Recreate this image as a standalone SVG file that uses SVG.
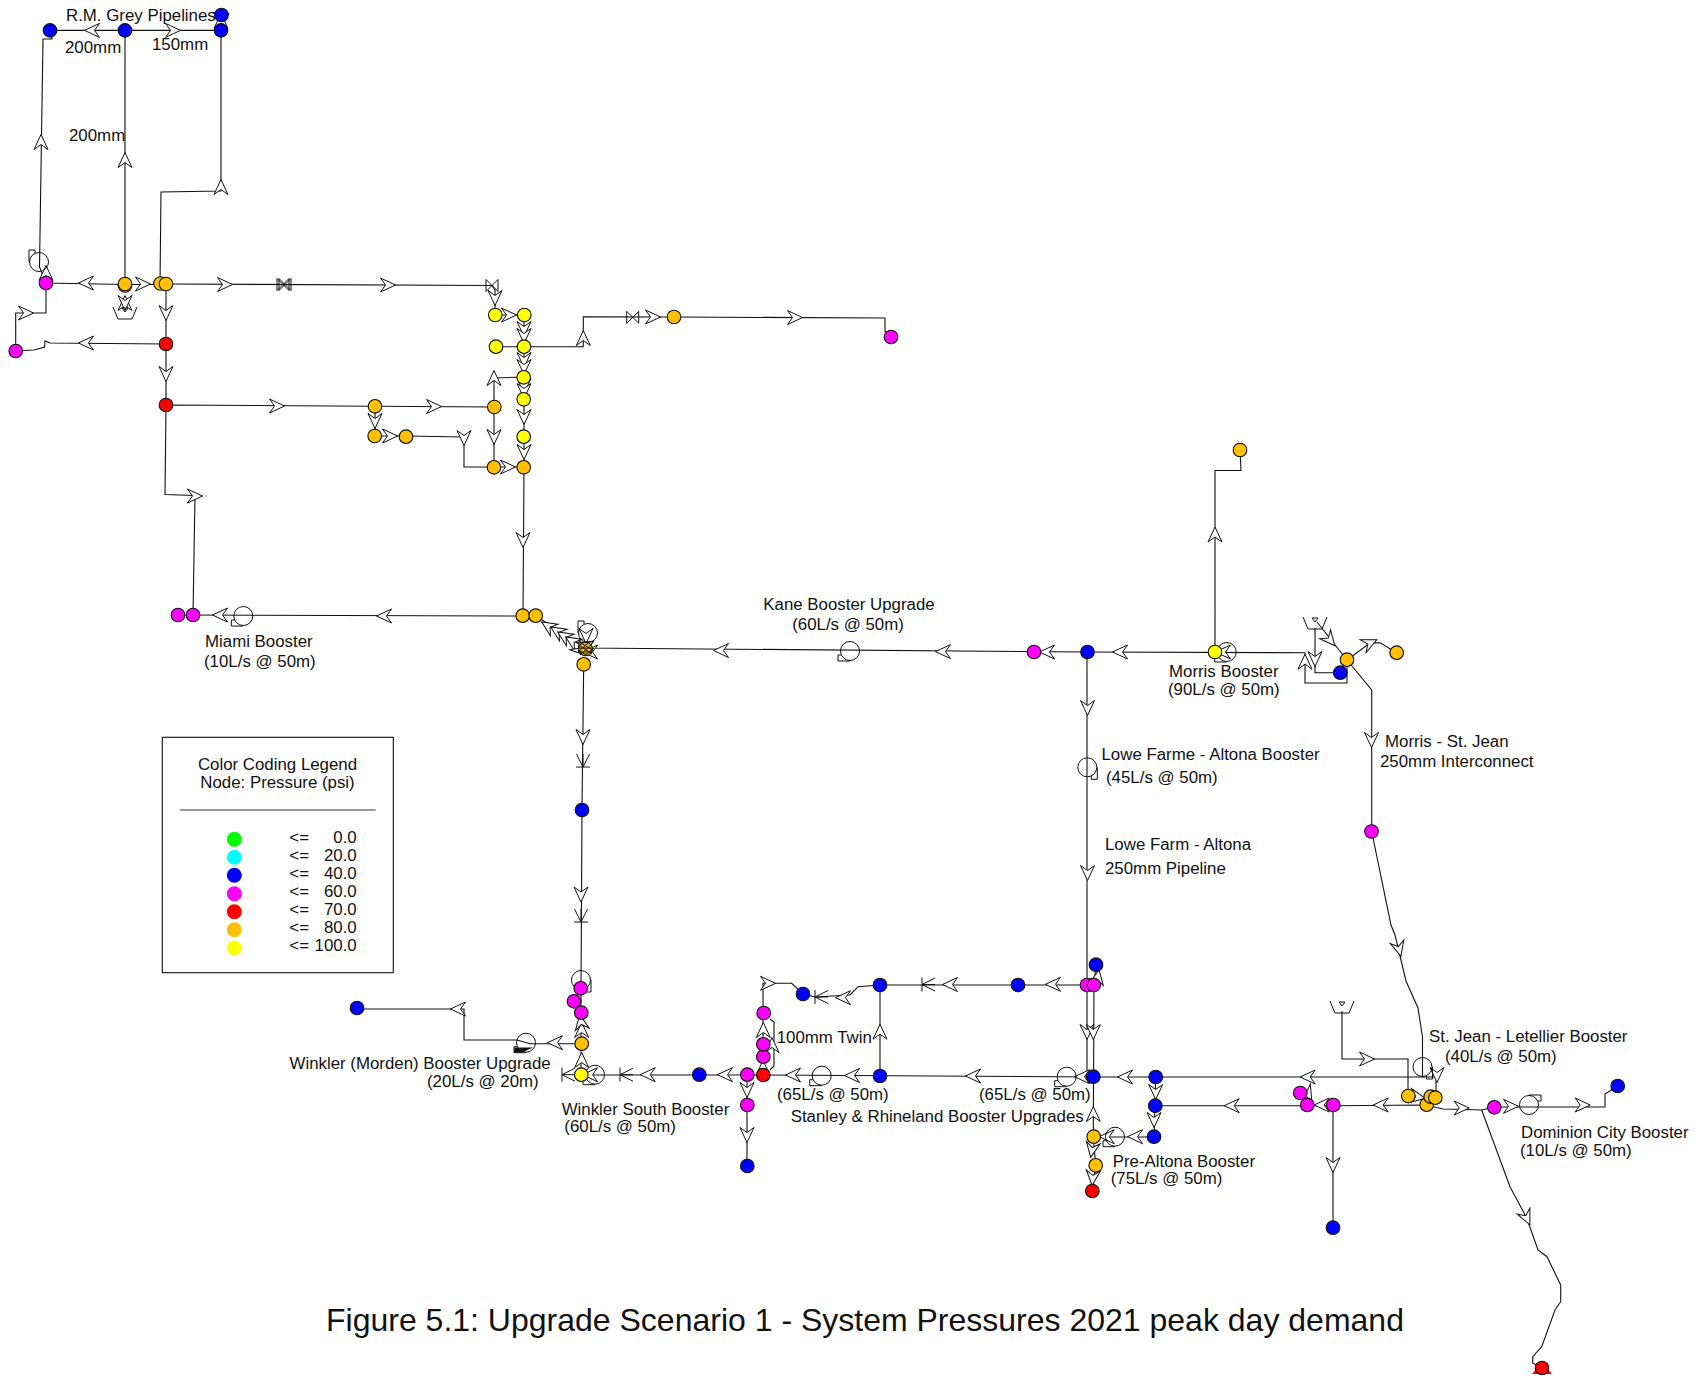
<svg xmlns="http://www.w3.org/2000/svg" width="1700" height="1377" viewBox="0 0 1700 1377">
<style>
text{font-family:"Liberation Sans",Arial,sans-serif;font-size:16.85px;fill:#111}
.title{font-size:32px}
.p{fill:none;stroke:#111;stroke-width:1.1}
.s{fill:none;stroke:#111;stroke-width:1}
.n circle{stroke:#111;stroke-width:1.1;r:6.8px}
.b circle{fill:#0000ff}.m circle{fill:#ff00ff}.r circle{fill:#ff0000}.o circle{fill:#ffc000}.y circle{fill:#ffff00}
.ar{fill:#fff;stroke:#111;stroke-width:1}
</style>
<defs>
<path id="a" class="ar" d="M7.5,0L-7.5,-7L-2.5,0L-7.5,7Z"/>
<path id="c" class="s" d="M-6,0H7M-6,-7V7M-6,0L7,-6.5M-6,0L7,6.5"/>
<path id="v" class="s" d="M-6,-6L6,6V-6L-6,6Z"/>
<path id="t" class="s" d="M-12,-10L-7,2H7L12,-10M-3,-9H3L0,-5Z"/>
<g id="u"><circle class="s" r="9.5"/><path class="s" d="M-8.5,4H-12V10H0"/></g>
</defs>
<rect width="1700" height="1377" fill="#fff"/>
<g id="connectors">
<path class="p" d="M50,30.4H221M125,30.4V285M221,15V30.4V191L161,192L160,284"/>
<path class="p" d="M50,30.4L52,39L43,39L39.5,267L46,283M46,283L125,284.5H160M166,284L492,285.5L495,290V315H524M496,346.7H524M524,315V467.3L523,616"/>
<path class="p" d="M524,346.7H583.3V316.7L674,317L885,318V331L891,337"/>
<path class="p" d="M166,284V405M166,344L50,343L45,341L44.6,347L34,350L15.7,351V313H46V283"/>
<path class="p" d="M166,405L494,407V467M494,407V378L524,377M166,405L165,494.5L195,495.5L193,615M375,406V436H406L464,437V467H524"/>
<path class="p" d="M523,616L178,615M523,616H536L585,648L1087,652L1305,652.7V683H1347V660M1215,652V470.5H1241L1240,450"/>
<path class="p" d="M1315,628V672.7H1340M1317,622L1347,660L1370,643L1380,642.7L1396.7,652.7M1347,660L1371.7,690V831.5L1391,925L1395,935L1406,981L1418,1008L1422.5,1037V1077"/>
<path class="p" d="M1342,1011V1059H1408V1096M1408,1096L1430,1100M1436,1077V1098M1093,1077H1436.7"/>
<path class="p" d="M1155.3,1105.7H1333L1426,1105L1443,1109L1481.7,1110L1494,1107H1605V1094L1617.7,1086"/>
<path class="p" d="M1481.7,1110L1510,1186.7L1526.7,1218L1538,1250L1547,1256.7L1560.7,1285V1301.7L1555,1310L1541.7,1346.7L1532.7,1356.7V1363L1542,1368M1333,1105V1228"/>
<path class="p" d="M880,985H1087M1087,652V1076M1094,985L1093.3,1137L1095.7,1165L1092.3,1191M1094,985L1096,965M1155.7,1077L1154,1137H1094M1093,1077L763,1075H581"/>
<path class="p" d="M880,985V1076M880,985L858,986.7L850,995L815,997L803,994L791.7,983.3H763V1075M770,1019L774,1022V1066L770,1070M581,1075V988"/>
<path class="p" d="M581.7,1043.7H530L517,1040H464V1009H357M583.7,664L582,810L581,988M747,1075V1166"/>
<g id="arrows">
<use href="#a" transform="translate(92,30.4) rotate(180)"/><use href="#a" transform="translate(173,30.4)"/><use href="#a" transform="translate(221,21) rotate(-90)"/>
<use href="#a" transform="translate(125,160) rotate(-90)"/><use href="#a" transform="translate(41,142) rotate(-90)"/><use href="#a" transform="translate(221,187) rotate(-90)"/>
<use href="#a" transform="translate(86,283) rotate(180)"/><use href="#a" transform="translate(143,284)"/><use href="#a" transform="translate(225,284.5)"/><use href="#a" transform="translate(388,285)"/>
<use href="#a" transform="translate(46,273) rotate(-90)"/><use href="#a" transform="translate(125,303) rotate(-90)"/><use href="#a" transform="translate(125,303) rotate(90)"/>
<use href="#a" transform="translate(166,313) rotate(90)"/><use href="#a" transform="translate(166,374) rotate(90)"/><use href="#a" transform="translate(86,343) rotate(180)"/><use href="#a" transform="translate(26,313)"/>
<use href="#a" transform="translate(495,298) rotate(90)"/><use href="#a" transform="translate(509,315)"/><use href="#a" transform="translate(524,329) rotate(90)"/><use href="#a" transform="translate(524,336) rotate(90)"/><use href="#a" transform="translate(524,360) rotate(90)"/><use href="#a" transform="translate(524,367) rotate(90)"/><use href="#a" transform="translate(524,386) rotate(90)"/><use href="#a" transform="translate(524,391) rotate(90)"/><use href="#a" transform="translate(524,417) rotate(90)"/><use href="#a" transform="translate(524,452) rotate(90)"/><use href="#a" transform="translate(523,540) rotate(90)"/>
<use href="#a" transform="translate(583.3,338) rotate(-90)"/><use href="#a" transform="translate(653,317)"/><use href="#a" transform="translate(795,317.5)"/>
<use href="#a" transform="translate(277,406)"/><use href="#a" transform="translate(434,406.5)"/><use href="#a" transform="translate(375,421) rotate(90)"/><use href="#a" transform="translate(390,436)"/><use href="#a" transform="translate(464,438) rotate(90)"/><use href="#a" transform="translate(494,378) rotate(-90)"/><use href="#a" transform="translate(494,437) rotate(90)"/><use href="#a" transform="translate(508,467)"/>
<use href="#a" transform="translate(195,496)"/><use href="#a" transform="translate(384,616) rotate(180)"/><use href="#a" transform="translate(220,615) rotate(180)"/>
<use href="#a" transform="translate(548,626) rotate(213)"/><use href="#a" transform="translate(557,631) rotate(213)"/><use href="#a" transform="translate(564,636) rotate(213)"/><use href="#a" transform="translate(572,641) rotate(213)"/><use href="#a" transform="translate(586,636) rotate(90)"/><use href="#a" transform="translate(587,645) rotate(-30)"/><use href="#a" transform="translate(580,650) rotate(45)"/><use href="#a" transform="translate(590,652) rotate(180)"/>
<use href="#a" transform="translate(721,650.5) rotate(180)"/><use href="#a" transform="translate(943,651.6) rotate(180)"/><use href="#a" transform="translate(1047,652) rotate(180)"/><use href="#a" transform="translate(1120,652) rotate(180)"/><use href="#a" transform="translate(1223,652) rotate(180)"/>
<use href="#a" transform="translate(1215,534.5) rotate(-90)"/><use href="#a" transform="translate(1305,661.7) rotate(-90)"/><use href="#a" transform="translate(1315,659) rotate(90)"/><use href="#a" transform="translate(1330,640) rotate(50)"/><use href="#a" transform="translate(1370,643) rotate(-25)"/>
<use href="#a" transform="translate(1371.5,740) rotate(90)"/><use href="#a" transform="translate(1399,949) rotate(75)"/><use href="#a" transform="translate(1437,1075) rotate(90)"/><use href="#a" transform="translate(1367,1059)"/><use href="#a" transform="translate(1418,1097) rotate(10)"/>
<use href="#a" transform="translate(1380.7,1105) rotate(180)"/><use href="#a" transform="translate(1321.7,1105) rotate(180)"/><use href="#a" transform="translate(1461.7,1108)"/><use href="#a" transform="translate(1511,1106.3)"/><use href="#a" transform="translate(1582.7,1105)"/><use href="#a" transform="translate(1526.7,1218) rotate(65)"/><use href="#a" transform="translate(1333,1165) rotate(90)"/>
<use href="#a" transform="translate(1307.7,1077) rotate(180)"/><use href="#a" transform="translate(1125,1077) rotate(180)"/><use href="#a" transform="translate(1231.7,1105.7) rotate(180)"/><use href="#a" transform="translate(1308,1094) rotate(60)"/>
<use href="#a" transform="translate(1155.7,1092) rotate(90)"/><use href="#a" transform="translate(1154,1120) rotate(90)"/><use href="#a" transform="translate(1135,1136.7) rotate(180)"/><use href="#a" transform="translate(1106.7,1136.7) rotate(180)"/>
<use href="#a" transform="translate(1087.5,708) rotate(90)"/><use href="#a" transform="translate(1087.5,873) rotate(90)"/><use href="#a" transform="translate(1087,1032) rotate(90)"/><use href="#a" transform="translate(1093.3,1032) rotate(90)"/><use href="#a" transform="translate(1097.7,977) rotate(-80)"/><use href="#a" transform="translate(1093.3,1114) rotate(-90)"/><use href="#a" transform="translate(1092,1150) rotate(100)"/><use href="#a" transform="translate(1092.7,1178) rotate(95)"/>
<use href="#a" transform="translate(1053,984.3) rotate(180)"/><use href="#a" transform="translate(950,984.5) rotate(180)"/><use href="#a" transform="translate(1082,1076.7) rotate(180)"/><use href="#a" transform="translate(973,1076) rotate(180)"/><use href="#a" transform="translate(852,1075.5) rotate(180)"/><use href="#a" transform="translate(793,1075) rotate(180)"/>
<use href="#a" transform="translate(880,1031.7) rotate(-90)"/><use href="#a" transform="translate(843,997.7) rotate(180)"/><use href="#a" transform="translate(768,983.3)"/><use href="#a" transform="translate(763.3,1030) rotate(-90)"/><use href="#a" transform="translate(772,1045) rotate(-90)"/><use href="#a" transform="translate(763,1068) rotate(-90)"/>
<use href="#a" transform="translate(725,1074.7) rotate(180)"/><use href="#a" transform="translate(647.7,1074.7) rotate(180)"/><use href="#a" transform="translate(590,1074.7) rotate(180)"/>
<use href="#a" transform="translate(581.7,1060) rotate(-90)"/><use href="#a" transform="translate(581.7,1030) rotate(-90)"/><use href="#a" transform="translate(555,1042.7) rotate(180)"/><use href="#a" transform="translate(458,1009) rotate(180)"/><use href="#a" transform="translate(581,1022) rotate(-100)"/>
<use href="#a" transform="translate(583,737) rotate(90)"/><use href="#a" transform="translate(581,894.5) rotate(90)"/><use href="#a" transform="translate(747,1090) rotate(90)"/><use href="#a" transform="translate(747,1135) rotate(90)"/>
<use href="#c" transform="translate(583,761) rotate(-90)"/><use href="#c" transform="translate(581,916) rotate(-90)"/><use href="#c" transform="translate(928,984.5)"/><use href="#c" transform="translate(821,997)"/><use href="#c" transform="translate(626,1074.7)"/><use href="#c" transform="translate(568,1074.7)"/>
</g>
</g>
<g id="valve1"><use href="#v" x="283" y="284.5"/><use href="#v" x="285" y="284.5"/></g>
<g id="valve2"><use href="#v" x="492" y="285.5"/></g>
<g id="valve3"><use href="#v" x="632.7" y="317.3"/></g>
<g id="tank1"><use href="#t" transform="translate(125,317)"/></g>
<g id="tank2"><use href="#t" transform="translate(1315,627)"/></g>
<g id="tank3"><use href="#t" transform="translate(1342,1011)"/></g>
<g id="pump1"><use href="#u" transform="translate(39,262) rotate(90)"/></g>
<g id="pump2"><use href="#u" transform="translate(243.3,616)"/></g>
<g id="pump3"><use href="#u" transform="translate(588,633) rotate(90)"/></g>
<g id="pump4"><use href="#u" transform="translate(850,651)"/></g>
<g id="pump5"><use href="#u" transform="translate(1226.7,652)"/></g>
<g id="pump6"><use href="#u" transform="translate(1087.3,767.3) rotate(-90)"/></g>
<g id="pump7"><use href="#u" transform="translate(1422.5,1067) rotate(-90)"/></g>
<g id="pump8"><use href="#u" transform="translate(1529,1105) rotate(180)"/></g>
<g id="pump9"><use href="#u" transform="translate(1066.7,1076.7)"/></g>
<g id="pump10"><use href="#u" transform="translate(1115,1136.7)"/></g>
<g id="pump11"><use href="#u" transform="translate(821.7,1075.7)"/></g>
<g id="pump12"><use href="#u" transform="translate(595,1074.7)"/></g>
<g id="pump13"><use href="#u" transform="translate(581,980) rotate(-90)"/></g>
<g id="pump14"><use href="#u" transform="translate(526,1042.7)"/><path d="M514.5,1047.5H533L522,1052.5H514Z" fill="#111"/></g>
<g id="n1" class="n b"><circle cx="50" cy="30.4"/></g>
<g id="n2" class="n b"><circle cx="125" cy="30.4"/></g>
<g id="n3" class="n b"><circle cx="221" cy="30.4"/></g>
<g id="n4" class="n b"><path d="M212,12L230,13L221,21Z" fill="#0000ff"/><circle cx="221.5" cy="15"/></g>
<g id="n5" class="n m"><circle cx="46" cy="283"/></g>
<g id="n6" class="n o"><circle cx="125" cy="285.5"/><circle cx="125" cy="284"/></g>
<g id="n7" class="n o"><circle cx="160.5" cy="283.5"/></g>
<g id="n8" class="n o"><circle cx="166" cy="284"/></g>
<g id="n9" class="n r"><circle cx="166" cy="344"/></g>
<g id="n10" class="n m"><circle cx="15.7" cy="351"/></g>
<g id="n11" class="n r"><circle cx="166" cy="405"/></g>
<g id="n12" class="n y"><circle cx="495.3" cy="315"/></g>
<g id="n13" class="n y"><circle cx="524.3" cy="315"/></g>
<g id="n14" class="n y"><circle cx="496" cy="346.7"/></g>
<g id="n15" class="n y"><circle cx="524" cy="346.7"/></g>
<g id="n16" class="n y"><circle cx="523.7" cy="377.3"/></g>
<g id="n17" class="n y"><circle cx="523.7" cy="399.3"/></g>
<g id="n18" class="n y"><circle cx="523.7" cy="436.7"/></g>
<g id="n19" class="n o"><circle cx="523.7" cy="467.3"/></g>
<g id="n20" class="n o"><circle cx="494" cy="467.3"/></g>
<g id="n21" class="n o"><circle cx="494.3" cy="407"/></g>
<g id="n22" class="n o"><circle cx="375" cy="406.3"/></g>
<g id="n23" class="n o"><circle cx="374.7" cy="436"/></g>
<g id="n24" class="n o"><circle cx="406" cy="436.7"/></g>
<g id="n25" class="n o"><circle cx="522.7" cy="615.7"/></g>
<g id="n26" class="n o"><circle cx="535.7" cy="615.7"/></g>
<g id="n27" class="n o"><circle cx="585.5" cy="649"/><path class="s" d="M579,645L592,654M581,643L594,651M578,650L588,656M592,644L580,655M588,643L578,652M594,648L584,656M579,648H593M580,652H592" stroke-width="1.2"/></g>
<g id="n28" class="n o"><circle cx="583.7" cy="664.3"/></g>
<g id="n29" class="n m"><circle cx="891" cy="337"/></g>
<g id="n30" class="n o"><circle cx="674" cy="317"/></g>
<g id="n31" class="n m"><circle cx="178" cy="615"/></g>
<g id="n32" class="n m"><circle cx="193" cy="615"/></g>
<g id="n33" class="n b"><circle cx="582" cy="810"/></g>
<g id="n34" class="n b"><circle cx="357" cy="1008"/></g>
<g id="n35" class="n m"><circle cx="580.7" cy="988.3"/></g>
<g id="n36" class="n m"><circle cx="574" cy="1001.3"/></g>
<g id="n37" class="n m"><circle cx="581.3" cy="1012.7"/></g>
<g id="n38" class="n o"><circle cx="581.7" cy="1043.7"/></g>
<g id="n39" class="n y"><circle cx="581.3" cy="1074.7"/></g>
<g id="n40" class="n b"><circle cx="699.3" cy="1074.7"/></g>
<g id="n41" class="n m"><circle cx="747.3" cy="1074.7"/></g>
<g id="n42" class="n r"><circle cx="763.3" cy="1075"/></g>
<g id="n43" class="n m"><circle cx="763.3" cy="1056.7"/></g>
<g id="n44" class="n m"><circle cx="763.3" cy="1044.3"/></g>
<g id="n45" class="n m"><circle cx="763.7" cy="1013"/></g>
<g id="n46" class="n b"><circle cx="803" cy="994"/></g>
<g id="n47" class="n b"><circle cx="880" cy="985"/></g>
<g id="n48" class="n b"><circle cx="880" cy="1076"/></g>
<g id="n49" class="n m"><circle cx="747.3" cy="1105"/></g>
<g id="n50" class="n b"><circle cx="747.3" cy="1166"/></g>
<g id="n51" class="n b"><circle cx="1096" cy="964.7"/></g>
<g id="n52" class="n m"><circle cx="1087" cy="985"/></g>
<g id="n53" class="n m"><circle cx="1093.7" cy="985"/></g>
<g id="n54" class="n b"><circle cx="1093.3" cy="1076.7"/></g>
<g id="n55" class="n b"><circle cx="1155.7" cy="1077"/></g>
<g id="n56" class="n b"><circle cx="1155.3" cy="1105.7"/></g>
<g id="n57" class="n b"><circle cx="1154" cy="1136.7"/></g>
<g id="n58" class="n o"><circle cx="1093.7" cy="1136.7"/></g>
<g id="n59" class="n o"><circle cx="1095.7" cy="1165.3"/></g>
<g id="n60" class="n r"><circle cx="1092.3" cy="1191"/></g>
<g id="n61" class="n m"><circle cx="1300.3" cy="1093"/></g>
<g id="n62" class="n m"><circle cx="1307.3" cy="1105"/></g>
<g id="n63" class="n m"><circle cx="1333.3" cy="1105"/></g>
<g id="n64" class="n b"><circle cx="1018" cy="985"/></g>
<g id="n65" class="n o"><circle cx="1408.3" cy="1096"/></g>
<g id="n66" class="n o"><circle cx="1426.7" cy="1104.7"/></g>
<g id="n67" class="n o"><circle cx="1430.7" cy="1096.7"/></g>
<g id="n68" class="n o"><circle cx="1435.3" cy="1097.7"/></g>
<g id="n69" class="n m"><circle cx="1494.3" cy="1107.3"/></g>
<g id="n70" class="n b"><circle cx="1617.7" cy="1086"/></g>
<g id="n71" class="n b"><circle cx="1333" cy="1227.7"/></g>
<g id="n72" class="n r"><path d="M1532,1374L1552,1374L1542,1362Z" fill="#ff0000"/><circle cx="1542" cy="1368"/></g>
<g id="n73" class="n y"><circle cx="1215" cy="652"/></g>
<g id="n74" class="n o"><circle cx="1347" cy="659.7"/></g>
<g id="n75" class="n b"><circle cx="1340.3" cy="672.7"/></g>
<g id="n76" class="n o"><circle cx="1396.7" cy="652.7"/></g>
<g id="n77" class="n m"><circle cx="1034" cy="652"/></g>
<g id="n78" class="n b"><circle cx="1087.5" cy="652"/></g>
<g id="n79" class="n o"><circle cx="1240" cy="450"/></g>
<g id="n80" class="n m"><circle cx="1371.5" cy="831.5"/></g>
<g id="labels">
<text x="66" y="21">R.M. Grey Pipelines</text>
<text x="65" y="53">200mm</text><text x="152" y="50">150mm</text><text x="69" y="140.5">200mm</text>
<text x="849" y="610" text-anchor="middle">Kane Booster Upgrade</text><text x="848" y="630" text-anchor="middle">(60L/s @ 50m)</text>
<text x="205" y="647">Miami Booster</text><text x="204" y="667">(10L/s @ 50m)</text>
<text x="1169" y="676.5">Morris Booster</text><text x="1168" y="695">(90L/s @ 50m)</text>
<text x="1101.5" y="760">Lowe Farme - Altona Booster</text><text x="1106" y="783">(45L/s @ 50m)</text>
<text x="1105" y="850">Lowe Farm - Altona</text><text x="1105" y="874">250mm Pipeline</text>
<text x="1385" y="747">Morris - St. Jean</text><text x="1380" y="766.5">250mm Interconnect</text>
<text x="1429" y="1042">St. Jean - Letellier Booster</text><text x="1445" y="1062">(40L/s @ 50m)</text>
<text x="1521" y="1138">Dominion City Booster</text><text x="1520" y="1156">(10L/s @ 50m)</text>
<text x="1112.7" y="1167">Pre-Altona Booster</text><text x="1110.7" y="1184">(75L/s @ 50m)</text>
<text x="790.7" y="1122">Stanley &amp; Rhineland Booster Upgrades</text>
<text x="777" y="1100">(65L/s @ 50m)</text><text x="979" y="1100">(65L/s @ 50m)</text>
<text x="776.7" y="1043">100mm Twin</text>
<text x="561.7" y="1115">Winkler South Booster</text><text x="564.3" y="1132">(60L/s @ 50m)</text>
<text x="289.5" y="1069">Winkler (Morden) Booster Upgrade</text><text x="427" y="1087">(20L/s @ 20m)</text>
<text class="title" x="326" y="1331">Figure 5.1: Upgrade Scenario 1 - System Pressures 2021 peak day demand</text>
</g>
<g id="legend">
<rect x="162.3" y="737.3" width="231" height="235.4" fill="#fff" stroke="#111" stroke-width="1.1"/>
<text x="277.5" y="770" text-anchor="middle">Color Coding Legend</text>
<text x="277.5" y="788" text-anchor="middle">Node: Pressure (psi)</text>
<path d="M180,810H375.7" stroke="#333" stroke-width="1.2"/>
<circle cx="234.3" cy="839.3" r="7.5" fill="#00ff00"/><circle cx="234.3" cy="857.3" r="7.5" fill="#00ffff"/><circle cx="234.3" cy="875.3" r="7.5" fill="#0000ff"/><circle cx="234.3" cy="893.7" r="7.5" fill="#ff00ff"/><circle cx="234.3" cy="911.7" r="7.5" fill="#ff0000"/><circle cx="234.3" cy="929.7" r="7.5" fill="#ffc000"/><circle cx="234.3" cy="948" r="7.5" fill="#ffff00"/>
<text x="289.3" y="843">&lt;=</text><text x="289.3" y="861">&lt;=</text><text x="289.3" y="879">&lt;=</text><text x="289.3" y="897">&lt;=</text><text x="289.3" y="915">&lt;=</text><text x="289.3" y="933">&lt;=</text><text x="289.3" y="951">&lt;=</text>
<text x="356.7" y="843" text-anchor="end">0.0</text><text x="356.7" y="861" text-anchor="end">20.0</text><text x="356.7" y="879" text-anchor="end">40.0</text><text x="356.7" y="897" text-anchor="end">60.0</text><text x="356.7" y="915" text-anchor="end">70.0</text><text x="356.7" y="933" text-anchor="end">80.0</text><text x="356.7" y="951" text-anchor="end">100.0</text>
</g>
</svg>
